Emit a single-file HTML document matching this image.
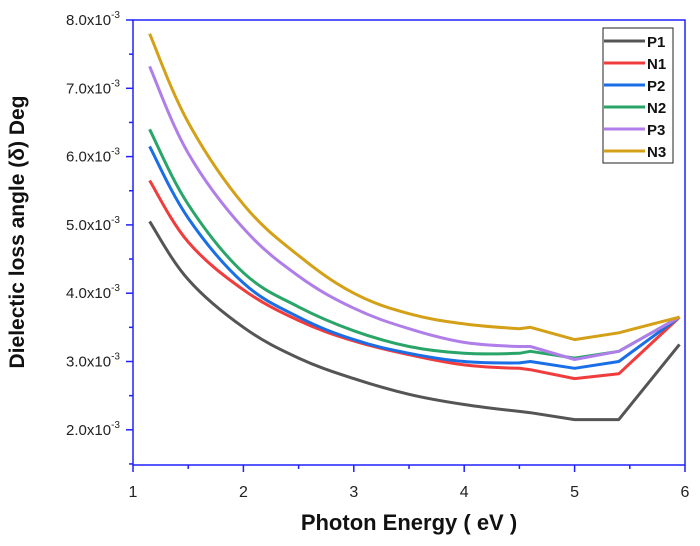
<!DOCTYPE html>
<html><head><meta charset="utf-8"><style>
body{margin:0;background:#fff;}
svg text{font-family:"Liberation Sans",Arial,sans-serif;}
</style></head><body>
<svg id="chart" width="700" height="541" xmlns="http://www.w3.org/2000/svg"></svg>
<script>
const xValues=[1.15,1.5,2,2.5,3,3.5,4,4.5,4.6,5,5.4,5.95];
const seriesNames=["P1","N1","P2","N2","P3","N3"];
const seriesP1=[5.05,4.2,3.5,3.05,2.75,2.52,2.37,2.27,2.25,2.15,2.15,3.25];
const seriesN1=[5.65,4.75,4.05,3.6,3.3,3.1,2.95,2.9,2.88,2.75,2.82,3.65];
const seriesP2=[6.15,5.1,4.15,3.65,3.32,3.12,3.0,2.98,3.0,2.9,3.0,3.65];
const seriesN2=[6.4,5.3,4.3,3.8,3.45,3.22,3.12,3.12,3.15,3.05,3.15,3.65];
const seriesP3=[7.32,6.05,4.95,4.25,3.78,3.48,3.28,3.22,3.22,3.03,3.15,3.65];
const seriesN3=[7.8,6.5,5.3,4.55,4.0,3.7,3.55,3.48,3.5,3.32,3.42,3.65];
const xTicks=[1,2,3,4,5,6];
const yTicks=[2,3,4,5,6,7,8];
const colors=["#555555","#f03c3c","#1a6ee6","#2aa56a","#b07ee8","#d4a017"];
const allSeries=[seriesP1,seriesN1,seriesP2,seriesN2,seriesP3,seriesN3];

const L=133,R=685,T=20,B=465;
const sx=v=>L+(v-1)/5*(R-L);
const sy=v=>T+(8-v)*68.3;
const svg=document.getElementById('chart');
const NS="http://www.w3.org/2000/svg";
function mk(tag,attrs,parent){const e=document.createElementNS(NS,tag);for(const k in attrs)e.setAttribute(k,attrs[k]);(parent||svg).appendChild(e);return e;}

const frame=mk('rect',{x:L,y:T,width:R-L,height:B-T,fill:'none',stroke:'#2020ff','stroke-width':1.5});



xTicks.forEach(v=>{
  const x=sx(v);
  const t=mk('line',{x1:x,x2:x,y1:B,y2:B+7,stroke:'#2020ff','stroke-width':1.5});
  
  
  if(v<6){const m=mk('line',{x1:sx(v+0.5),x2:sx(v+0.5),y1:B,y2:B+4,stroke:'#2020ff','stroke-width':1.5});
  
  }
  const lb=mk('text',{x:x,y:B+32,'text-anchor':'middle','font-size':16,fill:'#222'});
  lb.textContent=v;
  
  
});
yTicks.forEach(v=>{
  const y=sy(v);
  const t=mk('line',{x1:L-7,x2:L,y1:y,y2:y,stroke:'#2020ff','stroke-width':1.5});
  
  
  const m=mk('line',{x1:L-4,x2:L,y1:sy(v-0.5),y2:sy(v-0.5),stroke:'#2020ff','stroke-width':1.5});
  
  
  const lb=mk('text',{x:L-13,y:y+5,'text-anchor':'end','font-size':15,fill:'#222'});
  lb.innerHTML=v.toFixed(1)+'x10<tspan dy="-7" font-size="10">-3</tspan>';
  
  
});

function smoothPath(px,xs){
  let d='M'+px[0][0].toFixed(1)+','+px[0][1].toFixed(1);
  for(let i=0;i<px.length-1;i++){
    const p1=px[i],p2=px[i+1];
    if(xs[i+1]>4.5){d+=' L'+p2[0].toFixed(1)+','+p2[1].toFixed(1);continue;}
    const p0=px[Math.max(0,i-1)],p3=px[Math.min(px.length-1,i+2)];
    const k=0.18;
    const c1=[p1[0]+(p2[0]-p0[0])*k,p1[1]+(p2[1]-p0[1])*k];
    const k2=xs[i+1]>=4.5?0:k;
    const c2=[p2[0]-(p3[0]-p1[0])*k2,p2[1]-(p3[1]-p1[1])*k2];
    d+=' C'+c1.map(n=>n.toFixed(1)).join(',')+' '+c2.map(n=>n.toFixed(1)).join(',')+' '+p2[0].toFixed(1)+','+p2[1].toFixed(1);
  }
  return d;
}
allSeries.forEach((s,i)=>{
  const px=s.map((v,j)=>[sx(xValues[j]),sy(v)]);
  const p=mk('path',{d:smoothPath(px,xValues),fill:'none',stroke:colors[i],'stroke-width':3,'stroke-linejoin':'round'});
  
  
});

const lg=mk('g',{});


mk('rect',{x:603,y:28,width:70,height:135,fill:'#fff',stroke:'#222','stroke-width':1},lg);
seriesNames.forEach((n,i)=>{
  const y=41+i*22;
  const e=mk('g',{},lg);
  
  
  mk('line',{x1:604,x2:645,y1:y,y2:y,stroke:colors[i],'stroke-width':3},e);
  const t=mk('text',{x:647,y:y+6,'font-size':15,'font-weight':'bold',fill:'#111'},e);
  t.textContent=n;
});

const xt=mk('text',{x:409,y:530,'text-anchor':'middle','font-size':22,'font-weight':'bold',fill:'#111'});
xt.textContent='Photon Energy ( eV )';


const yt=mk('text',{x:0,y:0,'text-anchor':'middle','font-size':21,'font-weight':'bold',fill:'#111',transform:'translate(24,232) rotate(-90)'});
yt.textContent='Dielectic loss angle (δ) Deg';


</script>
</body></html>
